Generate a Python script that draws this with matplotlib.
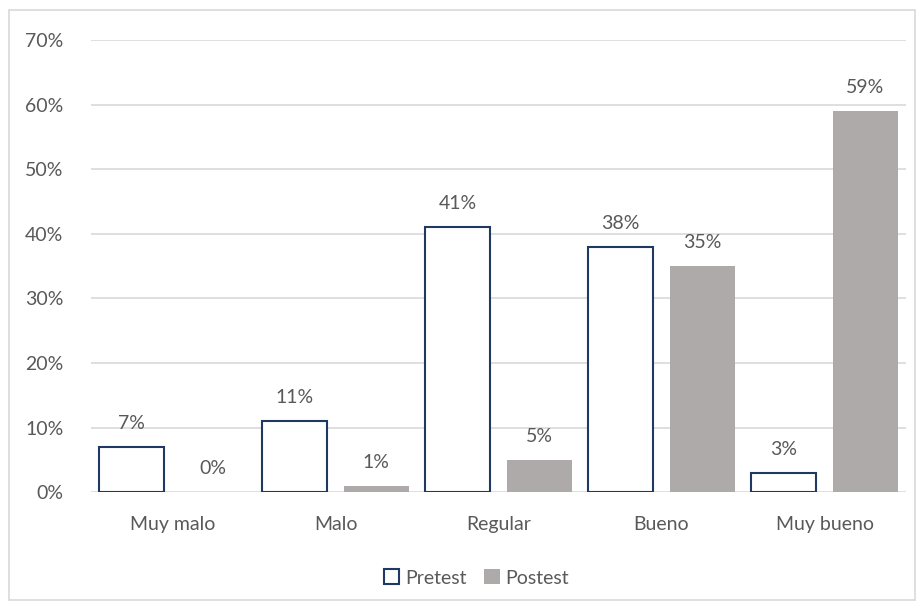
import numpy as np
import matplotlib.pyplot as plt
from matplotlib.patches import Rectangle

# data
categories = ['Muy malo', 'Malo', 'Regular', 'Bueno', 'Muy bueno']
pretest = [7, 11, 41, 38, 3]
postest = [0, 1, 5, 35, 59]
yticks = [0, 10, 20, 30, 40, 50, 60, 70]

plt.rcParams['font.family'] = ['Lato', 'DejaVu Sans']
txt = '#595959'
fs = 14

fig = plt.figure(figsize=(9.22, 6.09), dpi=100)
ax = fig.add_axes([0.0987, 0.192, 0.884, 0.742])

# light border around the whole chart
fig.patches.append(Rectangle((0.010, 0.015), 0.982, 0.968, transform=fig.transFigure,
                             fill=False, edgecolor='#d9d9d9', linewidth=1.2))

x = np.arange(len(categories))
w = 0.40
b1 = ax.bar(x - 0.25, pretest, w, facecolor='white', edgecolor='#1f3864',
            linewidth=1.5, label='Pretest', zorder=3)
b2 = ax.bar(x + 0.25, postest, w, color='#aeaaaa', label='Postest', zorder=3)

for bars, vals in ((b1, pretest), (b2, postest)):
    for r, v in zip(bars, vals):
        ax.annotate(f'{v}%', (r.get_x() + r.get_width() / 2, v), xytext=(0, 17),
                    textcoords='offset points', ha='center', va='center',
                    fontsize=fs, color=txt)

ax.set_xlim(-0.5, 4.5)
ax.set_ylim(0, 70)
ax.set_yticks(yticks)
ax.set_yticklabels([f'{t}%' for t in yticks])
ax.set_xticks(x)
ax.set_xticklabels(categories)
ax.tick_params(length=0, labelsize=fs, labelcolor=txt)
ax.tick_params(axis='y', pad=20)
ax.tick_params(axis='x', pad=17)
ax.grid(axis='y', color='#d9d9d9', linewidth=1.2, zorder=0)
for s in ax.spines.values():
    s.set_visible(False)

ax.legend(loc='center', bbox_to_anchor=(0.473, -0.19), ncol=2, frameon=False,
          fontsize=fs, labelcolor=txt, handlelength=0.8, handleheight=0.8,
          handletextpad=0.3, columnspacing=0.9)

fig.savefig('out.png', dpi=100)
